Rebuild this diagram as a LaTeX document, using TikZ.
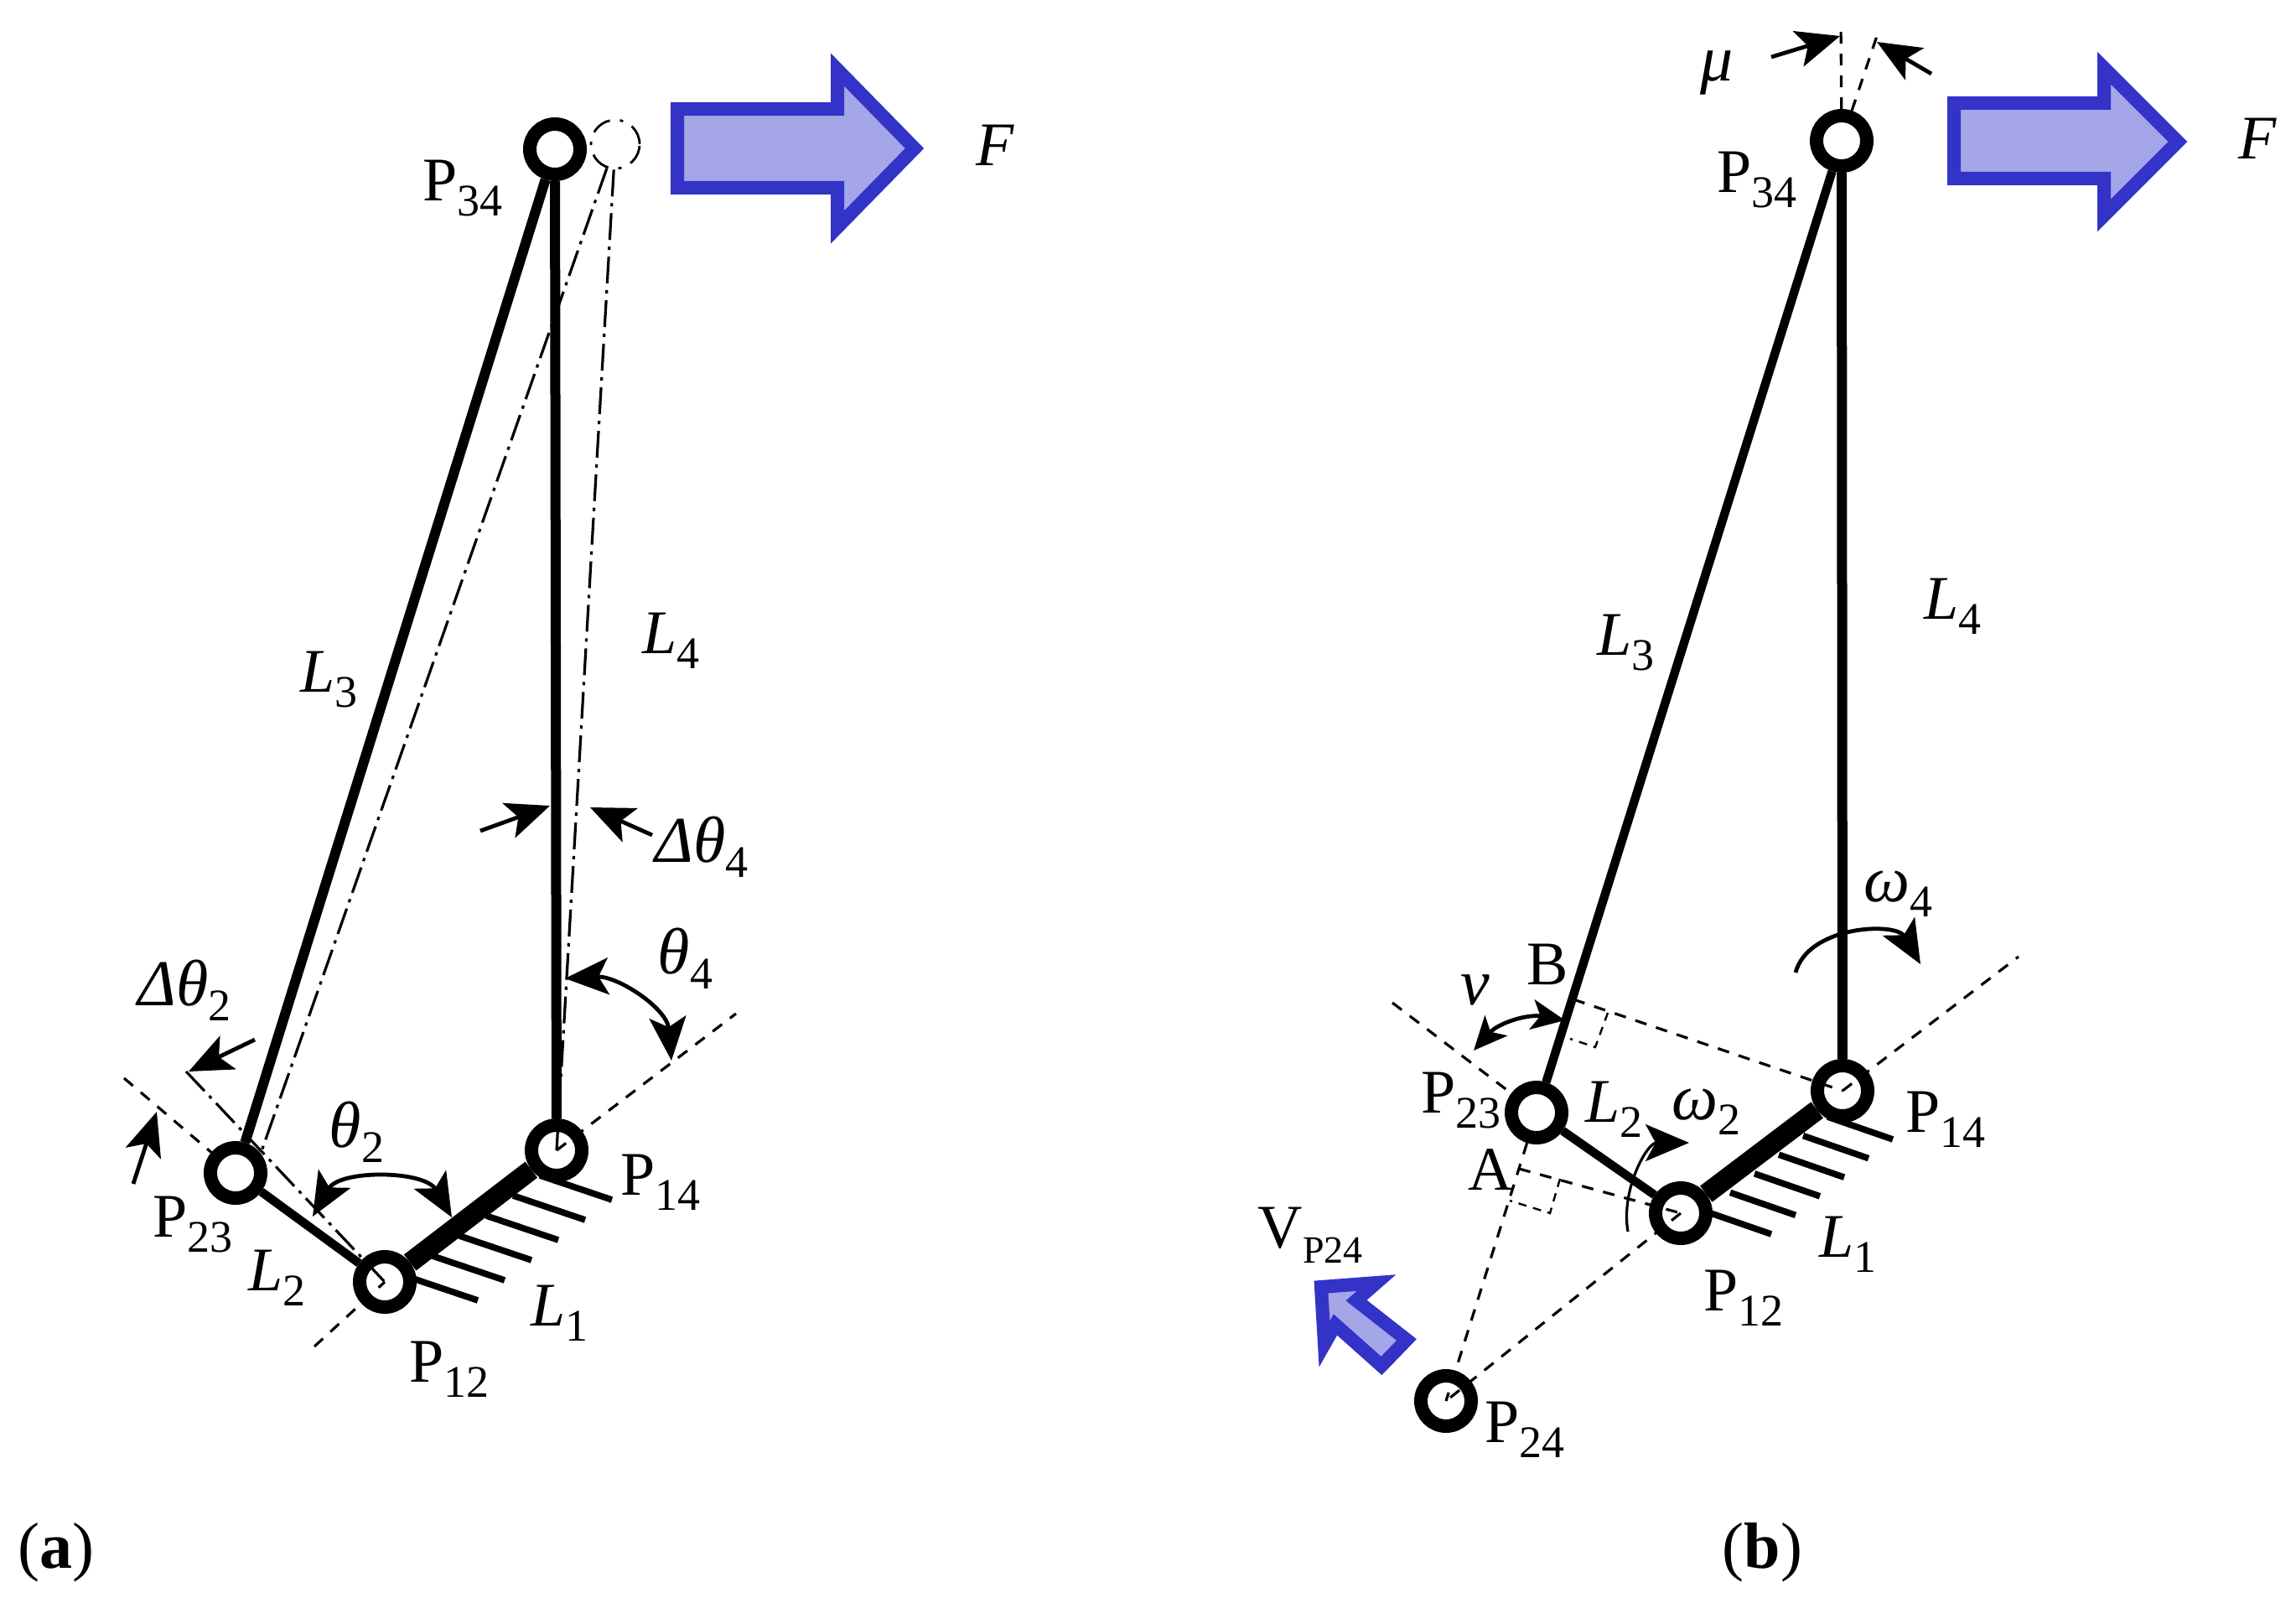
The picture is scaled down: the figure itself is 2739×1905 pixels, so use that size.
\documentclass[tikz,border=0pt]{standalone}
\usepackage{fontspec}
\setmainfont{Liberation Serif}
\usetikzlibrary{shapes,arrows.meta,calc}
\definecolor{arrowblue}{HTML}{3333C8}
\definecolor{arrowfill}{HTML}{A4A6E8}
\newcommand{\Sub}[2]{#1\raisebox{-4.5pt}{\fontsize{13.5}{14}\selectfont #2}}
\newcommand{\Li}[1]{\Sub{\textit{L}}{#1}}
\newcommand{\Pp}[1]{\Sub{P}{#1}}
\newcommand{\Gr}[1]{{\fontsize{19.5}{20}\selectfont\textit{#1}}}

\begin{document}
\begin{tikzpicture}[x=.25pt,y=-.25pt,% one unit is one pixel of the drawing, y runs down
			every node/.style={
				font=\fontsize{18.5}{20}\selectfont,
				inner sep=0pt
			},
			txt/.style={anchor=base west},		% labels are placed by their baseline
			joint/.style={circle,draw,line width=4pt,minimum size=15pt},
			ghost/.style={circle,draw,line width=.7pt,minimum size=14.5pt,dash pattern=on 6pt off 3pt on 1pt off 3pt},
			>={Stealth[length=13pt,width=11pt,inset=3pt]},
			every edge/.style={draw},
			link/.style={line width=3pt},
			linkthin/.style={line width=2.6pt},
			base/.style={line width=6pt},
			dashline/.style={line width=.8pt,dash pattern=on 3.5pt off 3pt},
			dotline/.style={line width=.8pt,dash pattern=on 8pt off 2pt on 1pt off 2pt},
			markline/.style={line width=.6pt,dash pattern=on 2.5pt off 2pt},
			hatchline/.style={line width=1.9pt},
			pointer/.style={line width=1.2pt,->},
			swing/.style={line width=1.2pt,<->},
			forcearrow/.style={draw=arrowblue,fill=arrowfill,line width=4pt,miter limit=10}
		]
		\useasboundingbox (0,0) rectangle (2739,1905);

		% (a)
		\node[joint](P34a) at (662,178){};
		\node[joint](P14a) at (664,1372){};
		\node[joint](P12a) at (459,1529){};
		\node[joint](P23a) at (281,1399){};
		\node[ghost](G34a) at (734,172){};
		\coordinate (G23a) at (312,1373);
		\coordinate (E12a) at (375,1606);
		\coordinate (E14a) at (878,1209);
		\coordinate (E23a) at (148,1286);
		\coordinate (E24a) at (222,1278);
		\foreach \k in {0,...,5}{
			\draw[hatchline] ($(P14a)+(66-32*\k,59+24*\k)$) -- ++(-86,-29);
		}
		\path
		(P34a)edge [link] (P14a)
		(P34a)edge [link] (P23a)
		(P23a)edge [linkthin] (P12a)
		(P14a)edge [base] (P12a)
		(E12a)edge [dashline] (P12a.center)
		(P14a.center)edge [dashline] (E14a)
		(E23a)edge [dashline] (P23a)
		(E24a)edge [dotline] (P12a.center)
		(G34a)edge [dotline] (G23a)
		(G34a)edge [dotline] (P14a.center)
		;
		\coordinate (A1a) at (304,1240);
		\coordinate (A2a) at (225,1278);
		\coordinate (A3a) at (159,1412);
		\coordinate (A4a) at (187,1326);
		\coordinate (A5a) at (573,991);
		\coordinate (A6a) at (656,961);
		\coordinate (A7a) at (778,996);
		\coordinate (A8a) at (704,963);
		\coordinate (T1a) at (674,1167);
		\coordinate (T2a) at (801,1265);
		\coordinate (T3a) at (373,1451);
		\coordinate (T4a) at (539,1452);
		\path
		(A1a)edge [pointer] (A2a)
		(A3a)edge [pointer] (A4a)
		(A5a)edge [pointer] (A6a)
		(A7a)edge [pointer] (A8a)
		(T1a)edge [swing,out=3,in=95] (T2a)
		(T3a)edge [swing,out=60,in=120] (T4a)
		;
		\draw[forcearrow] (808,130) -- (999,130) -- (999,83) -- (1091,177) -- (999,271) -- (999,224) -- (808,224) -- cycle;
		\node[txt](Lp34a) at (504,239){\Pp{34}};
		\node[txt](Lp14a) at (740,1425){\Pp{14}};
		\node[txt](Lp12a) at (488,1648){\Pp{12}};
		\node[txt](Lp23a) at (182,1475){\Pp{23}};
		\node[txt](Ll1a) at (633,1581){\Li{1}};
		\node[txt](Ll2a) at (296,1539){\Li{2}};
		\node[txt](Ll3a) at (358,825){\Li{3}};
		\node[txt](Ll4a) at (766,779){\Li{4}};
		\node[txt](Lt2a) at (392,1368){\Sub{\Gr{θ}}{2}};
		\node[txt](Lt4a) at (784,1161){\Sub{\Gr{θ}}{4}};
		\node[txt](Ld2a) at (164,1199){\Sub{\Gr{Δθ}}{2}};
		\node[txt](Ld4a) at (781,1028){\Sub{\Gr{Δθ}}{4}};
		\node[txt](Lfa) at (1164,197){\textit{F}};
		\node[txt,font=\fontsize{19.5}{20}\selectfont](Capa) at (21,1870){(\textbf{a})};

		% (b)
		\node[joint](P34b) at (2197,168){};
		\node[joint](P14b) at (2198,1301){};
		\node[joint](P12b) at (2005,1447){};
		\node[joint](P23b) at (1833,1327){};
		\node[joint](P24b) at (1725,1671){};
		\coordinate (E14b) at (2408,1141);
		\coordinate (E23b) at (1661,1196);
		\coordinate (Ptopb) at (2196,27);
		\coordinate (Mtopb) at (2239,43);
		\coordinate (Ab) at (1812,1394);
		\coordinate (Bb) at (1877,1192);
		\foreach \k in {0,...,5}{
			\draw[hatchline] ($(P14b)+(60-29*\k,58+22.6*\k)$) -- ++(-78,-27);
		}
		\path
		(P34b)edge [link] (P14b)
		(P34b)edge [linkthin] (P23b)
		(P23b)edge [linkthin] (P12b)
		(P14b)edge [base] (P12b)
		(P14b.center)edge [dashline] (E14b)
		(P12b.center)edge [dashline] (P24b.center)
		(E23b)edge [dashline] (P23b)
		(P23b)edge [dashline] (P24b.center)
		(Bb)edge [dashline] (P14b.center)
		(Ab)edge [dashline] (P12b.center)
		(P34b)edge [dashline] (Ptopb)
		(P34b)edge [dashline] (Mtopb)
		;
		\draw[markline] (1861,1406) -- (1849,1447) -- (1801,1432);
		\draw[markline] (1918,1208) -- (1903,1249) -- (1873,1239);
		\coordinate (A1b) at (2113,68);
		\coordinate (A2b) at (2195,43);
		\coordinate (A3b) at (2304,88);
		\coordinate (A4b) at (2239,50);
		\coordinate (T1b) at (1758,1253);
		\coordinate (T2b) at (1867,1217);
		\coordinate (T3b) at (2142,1160);
		\coordinate (T4b) at (2291,1150);
		\coordinate (T5b) at (1942,1469);
		\coordinate (T6b) at (2015,1363);
		\path
		(A1b)edge [pointer] (A2b)
		(A3b)edge [pointer] (A4b)
		(T1b)edge [swing,>={Stealth[length=10pt,width=9pt,inset=2.5pt]},out=48,in=170] (T2b)
		(T3b)edge [pointer,out=75,in=120] (T4b)
		(T5b)edge [pointer,line width=.8pt,out=100,in=180] (T6b)
		;
		\draw[forcearrow] (2331,123) -- (2510,123) -- (2510,81) -- (2598,169) -- (2510,257) -- (2510,213) -- (2331,213) -- cycle;
		\draw[forcearrow] (1576,1535) -- (1642,1530) -- (1618,1551) -- (1678,1598) -- (1648,1629) -- (1593,1580) -- (1580,1603) -- cycle;
		\node[txt](Lp34b) at (2048,230){\Pp{34}};
		\node[txt](Lp14b) at (2273,1350){\Pp{14}};
		\node[txt](Lp12b) at (2032,1563){\Pp{12}};
		\node[txt](Lp23b) at (1695,1327){\Pp{23}};
		\node[txt](Lp24b) at (1771,1720){\Pp{24}};
		\node[txt](Ll1b) at (2170,1499){\Li{1}};
		\node[txt](Ll2b) at (1891,1338){\Li{2}};
		\node[txt](Ll3b) at (1905,781){\Li{3}};
		\node[txt](Ll4b) at (2295,738){\Li{4}};
		\node[txt](Lw2b) at (1994,1335){\Sub{\Gr{ω}}{2}};
		\node[txt](Lw4b) at (2223,1075){\Sub{\Gr{ω}}{4}};
		\node[txt](Lmub) at (2028,97){\Gr{μ}};
		\node[txt](Lnub) at (1742,1198){\Gr{ν}};
		\node[txt](Lab) at (1751,1419){A};
		\node[txt](Lbb) at (1821,1174){B};
		\node[txt](Lvb) at (1500,1488){V\raisebox{-4.5pt}{\fontsize{11.5}{12}\selectfont P24}};
		\node[txt](Lfb) at (2670,190){\textit{F}};
		\node[txt,font=\fontsize{19.5}{20}\selectfont](Capb) at (2054,1870){(\textbf{b})};
	\end{tikzpicture}
\end{document}
